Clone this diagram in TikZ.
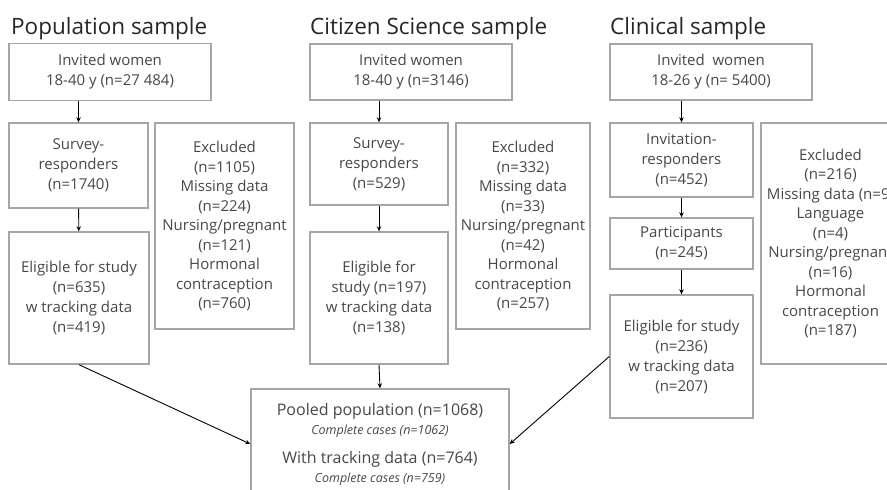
\documentclass[tikz,border=0pt]{standalone}
\usepackage{fontspec}
\setmainfont{Open Sans}
\usetikzlibrary{arrows.meta}
\definecolor{boxgray}{HTML}{A6A6A6}
\definecolor{txtgray}{HTML}{474747}

\begin{document}
\begin{tikzpicture}[x=1pt, y=-1pt, every node/.style={text=txtgray}]
  \tikzset{
    box/.style={draw=boxgray, line width=1.4pt, inner sep=0pt, align=center,
      font=\fontsize{15}{20}\selectfont},
    excl/.style={box, font=\fontsize{15}{19.5}\selectfont},
    title/.style={anchor=base west, inner sep=0pt, text=black!85,
      font=\fontsize{22.5}{27}\selectfont},
    arr/.style={-{Stealth[length=5pt, width=4.5pt]}, line width=0.9pt, black},
  }
  \newcommand{\ccfont}{\fontsize{12.5}{15}\itshape}
  \useasboundingbox (0,0) rectangle (887,490);

  %% ===== Population sample =====
  \begin{scope}[xshift=0pt]
    \node[title] (ttl1) at (11,34) {Population sample};
    \node[box, minimum width=202pt, minimum height=57pt] (inv1) at (110,72)
      {Invited women\\18-40 y (n=27 484)};
    \node[box, minimum width=139pt, minimum height=85pt] (srv1) at (78.5,165.5)
      {Survey-\\responders\\(n=1740)};
    \node[box, minimum width=140pt, minimum height=132pt] (elg1) at (79,298)
      {Eligible for study\\(n=635)\\w tracking data\\(n=419)};
    \node[excl, minimum width=139pt, minimum height=206pt] (exc1) at (224.5,226)
      {Excluded\\(n=1105)\\Missing data\\(n=224)\\Nursing/pregnant\\(n=121)\\Hormonal\\contraception\\(n=760)};
  \end{scope}

  %% ===== Citizen Science sample =====
  \begin{scope}[xshift=301pt]
    \node[title] (ttl2) at (9,34) {Citizen Science sample};
    \node[box, minimum width=202pt, minimum height=56pt] (inv2) at (110,72)
      {Invited women\\18-40 y (n=3146)};
    \node[box, minimum width=138pt, minimum height=82pt] (srv2) at (78,164)
      {Survey-\\responders\\(n=529)};
    \node[box, minimum width=138pt, minimum height=132pt] (elg2) at (78,298)
      {Eligible for\\study (n=197)\\w tracking data\\(n=138)};
    \node[excl, minimum width=134pt, minimum height=206pt] (exc2) at (222,226)
      {Excluded\\(n=332)\\Missing data\\(n=33)\\Nursing/pregnant\\(n=42)\\Hormonal\\contraception\\(n=257)};
  \end{scope}

  %% ===== Clinical sample =====
  \begin{scope}[xshift=601pt]
    \node[title] (ttl3) at (9,34) {Clinical sample};
    \node[box, minimum width=202pt, minimum height=56pt] (inv3) at (110,72)
      {Invited\ \ women\\18-26 y (n= 5400)};
    \node[box, minimum width=143pt, minimum height=74pt] (rsp3) at (80.5,160)
      {Invitation-\\responders\\(n=452)};
    \node[box, minimum width=143pt, minimum height=51pt] (par3) at (80.5,243.5)
      {Participants\\(n=245)};
    \node[box, minimum width=143pt, minimum height=123pt] (elg3) at (80.5,356.5)
      {Eligible for study\\(n=236)\\w tracking data\\(n=207)};
    \node[excl, minimum width=139pt, minimum height=241pt] (exc3) at (229.5,243.5)
      {Excluded\\(n=216)\\Missing data (n=9)\\Language\\(n=4)\\Nursing/pregnant\\(n=16)\\Hormonal\\contraception\\(n=187)};
  \end{scope}

  %% ===== Pooled population =====
  \node[box, minimum width=258pt, minimum height=110pt, font=\fontsize{16}{19}\selectfont]
    (pool) at (380,444)
    {Pooled population (n=1068)\\{\ccfont Complete cases (n=1062)}\\[10pt]
     With tracking data (n=764)\\{\ccfont Complete cases (n=759)}};

  % flow arrows
  \draw[arr] (inv1.south -| srv1.north) -- (srv1.north);
  \draw[arr] (srv1) -- (elg1);
  \draw[arr] (inv2.south -| srv2.north) -- (srv2.north);
  \draw[arr] (srv2) -- (elg2);
  \draw[arr] (inv3.south -| rsp3.north) -- (rsp3.north);
  \draw[arr] (rsp3) -- (par3);
  \draw[arr] (par3) -- (elg3);
  \draw[arr] (elg1.south) -- (pool.west);
  \draw[arr] (elg2.south) -- (pool.north);
  \draw[arr] (elg3.west) -- (pool.east);
\end{tikzpicture}
\end{document}
